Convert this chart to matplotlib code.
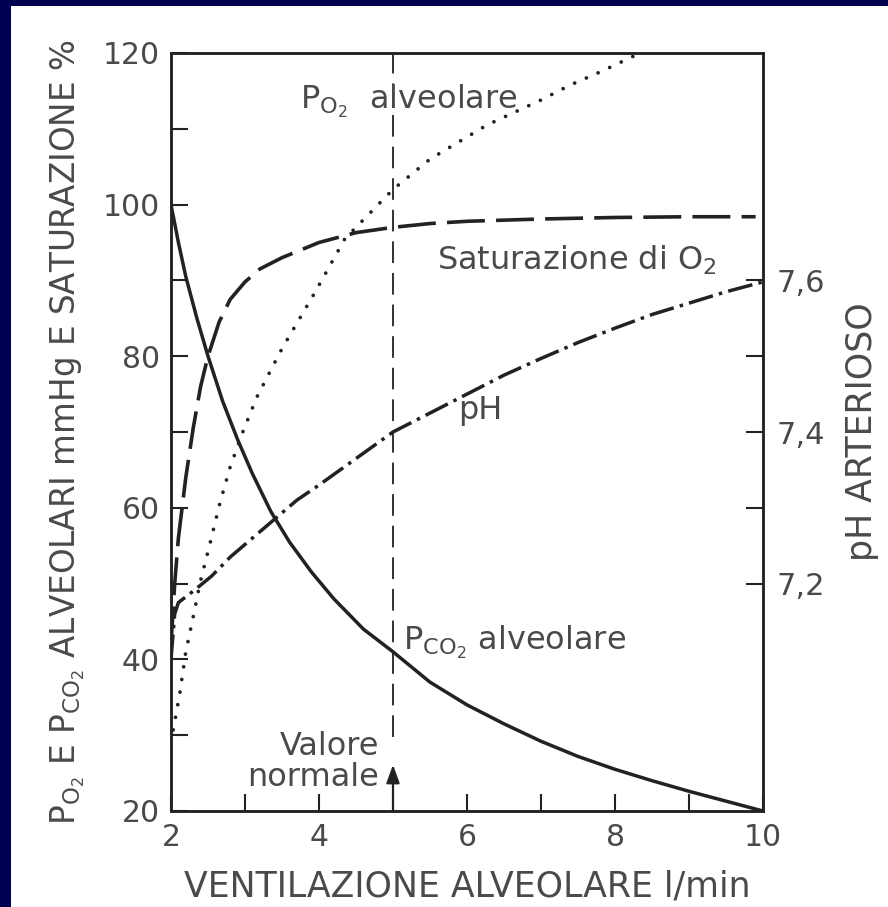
import matplotlib
matplotlib.use('Agg')
import matplotlib.pyplot as plt
from matplotlib.patches import Rectangle
from matplotlib.ticker import MultipleLocator, FixedLocator, FuncFormatter

plt.rcParams['font.family'] = ['DejaVu Sans']
plt.rcParams['mathtext.fontset'] = 'dejavusans'

# ---------------- data ----------------
vent_pco2 = [2.0, 2.1, 2.2, 2.35, 2.5, 2.7, 2.9, 3.1, 3.35, 3.6, 3.9, 4.2, 4.6,
             5.0, 5.5, 6.0, 6.5, 7.0, 7.5, 8.0, 8.5, 9.0, 9.5, 10.0]
pco2 = [100, 95, 90.5, 85, 80, 74, 69, 64.5, 59.5, 55.5, 51.5, 48, 44,
        41, 37, 34, 31.5, 29.2, 27.2, 25.5, 24, 22.6, 21.3, 20.0]

vent_sat = [2.0, 2.05, 2.1, 2.2, 2.3, 2.4, 2.5, 2.65, 2.8, 3.0, 3.2, 3.5, 3.75,
            4.0, 4.5, 5.0, 5.5, 6.0, 7.0, 8.0, 9.0, 9.9]
saturation = [42, 50, 56, 64, 70.5, 76, 80, 84.5, 87.5, 89.8, 91.5, 93, 94,
              95, 96.3, 97, 97.5, 97.8, 98.1, 98.3, 98.4, 98.4]

vent_po2 = [2.03, 2.12, 2.2, 2.3, 2.39, 2.53, 2.66, 2.8, 2.97, 3.16, 3.34, 3.5,
            3.74, 3.95, 4.35, 5.0, 5.5, 6.27, 7.0, 7.4, 7.8, 8.34]
po2 = [30.7, 35.6, 41, 45.6, 50, 55.4, 60.6, 65.4, 70, 74.6, 78, 81,
       85, 88.5, 95.5, 102, 106, 110.5, 113.8, 115.8, 117.5, 120]

vent_ph = [2.0, 2.05, 2.1, 2.3, 2.55, 2.8, 3.1, 3.4, 3.7, 4.0, 4.5, 5.0, 5.5,
           6.0, 6.5, 7.0, 7.5, 8.0, 8.5, 9.0, 9.5, 10.0]
ph = [7.10, 7.16, 7.175, 7.19, 7.21, 7.235, 7.26, 7.285, 7.31, 7.33, 7.365, 7.40,
      7.425, 7.45, 7.475, 7.497, 7.518, 7.537, 7.555, 7.57, 7.585, 7.598]

normal_ventilation = 5.0

x_ticks_major = [2, 4, 6, 8, 10]
x_ticks_minor = [3, 7, 9]
y_ticks_major = [20, 40, 60, 80, 100, 120]
ph_ticks_major = [7.2, 7.4, 7.6]
ph_ticks_minor = [7.3, 7.5]

INK = '#222222'
TXT = '#4a4a4a'
NAVY = '#000050'

# ---------------- figure ----------------
fig = plt.figure(figsize=(8.88, 9.07), dpi=100)
fig.patch.set_facecolor(NAVY)
fig.add_artist(Rectangle((11 / 888, 0), 877 / 888, 901 / 907,
                         transform=fig.transFigure, facecolor='white',
                         edgecolor='none', zorder=0))

ax = fig.add_axes([171 / 888, 96 / 907, 592 / 888, 758 / 907])
ax.set_facecolor('white')
ax.set_xlim(2, 10)
ax.set_ylim(20, 120)

ax2 = ax.twinx()
ax2.set_ylim(6.9, 7.9)

for a in (ax, ax2):
    for s in a.spines.values():
        s.set_color(INK)
        s.set_linewidth(1.8)

# curves
ax.plot(vent_pco2, pco2, color=INK, lw=2.5, solid_capstyle='butt')
l_sat, = ax.plot(vent_sat, saturation, color=INK, lw=2.6)
l_sat.set_dashes([10.5, 3.1])
l_po2, = ax.plot(vent_po2, po2, color=INK, lw=2.7, dash_capstyle='round')
l_po2.set_dashes([0.01, 3.4])
l_ph, = ax2.plot(vent_ph, ph, color=INK, lw=2.5)
l_ph.set_dashes([7.2, 1.8, 1.0, 1.8])

# normal value line + arrow
l_norm, = ax.plot([normal_ventilation, normal_ventilation], [29.8, 120],
                  color=INK, lw=1.3)
l_norm.set_dashes([12, 5.5])
ax.annotate('', xy=(normal_ventilation, 26.1), xytext=(normal_ventilation, 20),
            arrowprops=dict(arrowstyle='-|>,head_length=0.55,head_width=0.2',
                            color=INK, lw=1.6, mutation_scale=20,
                            shrinkA=0, shrinkB=0), zorder=5)

# ticks
ax.xaxis.set_major_locator(FixedLocator(x_ticks_major))
ax.xaxis.set_minor_locator(FixedLocator(x_ticks_minor))
ax.yaxis.set_major_locator(FixedLocator(y_ticks_major))
ax.yaxis.set_minor_locator(MultipleLocator(10))
ax.tick_params(axis='both', which='both', direction='in', length=12,
               width=1.5, color=INK, labelsize=21.5, labelcolor=TXT)
ax.tick_params(axis='y', pad=8)
ax.tick_params(axis='x', pad=9)
ax.tick_params(top=False, right=False)

ax2.yaxis.set_major_locator(FixedLocator(ph_ticks_major))
ax2.yaxis.set_minor_locator(FixedLocator(ph_ticks_minor))
ax2.yaxis.set_major_formatter(FuncFormatter(lambda v, p: f'{v:.1f}'.replace('.', ',')))
ax2.tick_params(axis='y', which='both', direction='in', length=12, width=1.5,
                color=INK, labelsize=22, labelcolor=TXT, pad=10)

# axis labels
ax.set_xlabel('VENTILAZIONE ALVEOLARE l/min', fontsize=25, color=TXT, labelpad=12)
ax.set_ylabel(r'P$_{\mathregular{O_2}}$ E P$_{\mathregular{CO_2}}$ ALVEOLARI mmHg E SATURAZIONE %',
              fontsize=23.5, color=TXT, labelpad=11)
ax2.set_ylabel('pH ARTERIOSO', fontsize=25, color=TXT, labelpad=14)

# annotations
ax.text(3.74, 113.6, r'P$_{\mathregular{O_2}}$  alveolare', fontsize=23, color=TXT,
        ha='left', va='center')
ax.text(5.59, 92.6, r'Saturazione di O$_{\mathregular{2}}$', fontsize=23, color=TXT,
        ha='left', va='center')
ax.text(5.88, 72.9, 'pH', fontsize=23, color=TXT, ha='left', va='center')
ax.text(5.14, 42.2, r'P$_{\mathregular{CO_2}}$ alveolare', fontsize=23, color=TXT,
        ha='left', va='center')
ax.text(4.81, 26.5, 'Valore\nnormale', fontsize=23, color=TXT, ha='right',
        va='center', multialignment='right', linespacing=1.0)

fig.savefig('out.png', dpi=100, facecolor=fig.get_facecolor())
